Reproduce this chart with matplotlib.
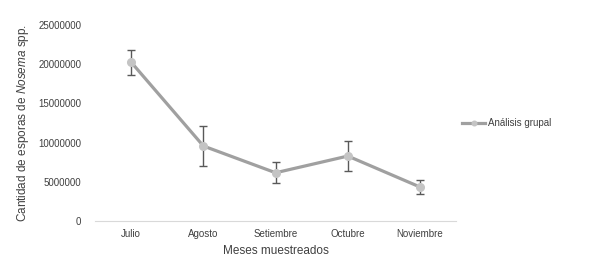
import numpy as np
import matplotlib.pyplot as plt

plt.rcParams['font.family'] = ['Liberation Sans', 'DejaVu Sans']
plt.rcParams['mathtext.fontset'] = 'custom'
plt.rcParams['mathtext.rm'] = 'Liberation Sans'
plt.rcParams['mathtext.it'] = 'Liberation Sans:italic'

meses = ['Julio', 'Agosto', 'Setiembre', 'Octubre', 'Noviembre']
esporas = [20250000, 9570000, 6160000, 8290000, 4340000]
error = [1570000, 2550000, 1350000, 1900000, 880000]

x = np.arange(len(meses))

fig = plt.figure(figsize=(5.94, 2.68), dpi=100)
ax = fig.add_axes([0.16, 0.175, 0.608, 0.732])

ax.errorbar(x, esporas, yerr=error, fmt='none', ecolor='#595959',
            elinewidth=1, capsize=3, capthick=1, zorder=2)
ax.plot(x, esporas, '-o', color='#a0a0a0', linewidth=2.3,
        markersize=5.5, markerfacecolor='#c4c4c4', markeredgecolor='#c4c4c4',
        label='Análisis grupal', zorder=3)

ax.set_xlim(-0.5, 4.5)
ax.set_ylim(0, 25000000)
ax.set_yticks(np.arange(0, 25000001, 5000000))
ax.set_yticklabels([str(v) for v in range(0, 25000001, 5000000)])
ax.set_xticks(x)
ax.set_xticklabels(meses)
ax.tick_params(axis='both', length=0, labelsize=7, colors='#404040')
ax.tick_params(axis='y', pad=10)
ax.tick_params(axis='x', pad=6)

for s in ['top', 'right', 'left']:
    ax.spines[s].set_visible(False)
ax.spines['bottom'].set_color('#d9d9d9')

ax.set_xlabel('Meses muestreados', fontsize=8.5, color='#404040', labelpad=4)
ax.set_ylabel(r'Cantidad de esporas de $\mathit{Nosema}$ spp.', fontsize=8.5,
              color='#404040', labelpad=5)

ax.legend(loc='center left', bbox_to_anchor=(1.0, 0.5), frameon=False,
          fontsize=7, handlelength=2.4, handletextpad=0.3, borderaxespad=0.2,
          markerscale=0.6, labelcolor='#404040')

fig.savefig('out.png', dpi=100)
